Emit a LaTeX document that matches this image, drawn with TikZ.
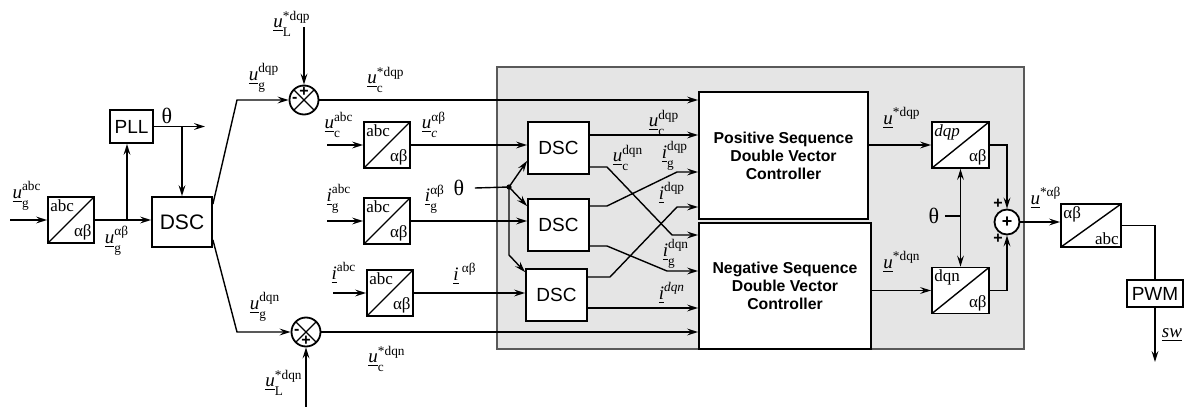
\documentclass[tikz,border=0pt]{standalone}
\usepackage{amsmath}
\usepackage{fontspec}
\setmainfont{Liberation Serif}
\setsansfont{Liberation Sans}
\usetikzlibrary{arrows.meta}
\newcommand{\ulv}[1]{\underline{\textit{#1}}}
% underlined quantity with lowered subscript and superscript
\newcommand{\sig}[3]{$\ulv{#1}_{\text{\raisebox{-2pt}{#2}}}^{\text{#3}}$}

\begin{document}
\begin{tikzpicture}[x=0.5pt, y=-0.5pt, line width=0.7pt,
          >={Stealth[length=5.5pt, width=3.4pt, inset=2pt]},
          arr/.style={->},
          blk/.style={draw, fill=white, line width=0.9pt, inner sep=0pt, font=\sffamily\fontsize{9.5}{11}\selectfont},
          ctl/.style={blk, align=center, font=\sffamily\bfseries\fontsize{7.9}{9}\selectfont},
          conv/.style={draw, fill=white, line width=0.9pt, minimum width=23pt, minimum height=23pt, inner sep=0pt,
            path picture={\draw[line width=0.7pt] (path picture bounding box.south west) -- (path picture bounding box.north east);}},
          cin/.style={anchor=north west, inner sep=1.3pt, font=\fontsize{8.5}{9}\selectfont},
          cout/.style={anchor=south east, inner sep=1.3pt, font=\fontsize{8.5}{9}\selectfont},
          mix/.style={draw, circle, fill=white, line width=0.9pt, minimum size=14.5pt, inner sep=0pt,
            path picture={\draw[line width=0.7pt] (path picture bounding box.north west) -- (path picture bounding box.south east)
              (path picture bounding box.north east) -- (path picture bounding box.south west);}},
          add/.style={draw, circle, fill=white, line width=0.9pt, minimum size=12.5pt, inner sep=0pt, font=\sffamily\bfseries\small},
          sgn/.style={inner sep=0pt, font=\sffamily\bfseries\fontsize{8}{8}\selectfont},
          lab/.style={inner sep=0pt, font=\fontsize{9.5}{11}\selectfont},
          panel/.style={fill=black!10, draw=black!65, line width=0.8pt}]
  \useasboundingbox (0,0) rectangle (1185,407);

  % controller panel
  \filldraw[panel] (497,67) rectangle (1024,349);

  % grid voltage, PLL and first DSC
  \node[conv, label={[cin]north west:abc}, label={[cout]south east:αβ}] (t1) at (71,220) {};
  \coordinate (ugin) at (10,220);
  \draw[arr] (ugin) -- (t1);
  \node[lab] (lugabc) at (27,196) {\sig{u}{g}{abc}};
  \node[blk, minimum width=21.5pt, minimum height=16.5pt] (pll) at (131.5,126.5) {PLL};
  \node[blk, minimum width=30pt, minimum height=25pt, font=\sffamily\fontsize{10.5}{12}\selectfont] (dsc1) at (182,222) {DSC};
  \draw[arr] (t1.east) -- (dsc1.west |- t1.east);
  \coordinate (b1) at (127,220);
  \draw[arr] (b1) -- (b1 |- pll.south);
  \node[lab] (lugab) at (117,241) {\sig{u}{g}{αβ}};
  \coordinate (thend) at (205,126.5);
  \draw[arr] (pll.east) -- (thend);
  \draw[arr] (dsc1.north |- pll.east) -- (dsc1.north);
  \node[lab, font=\fontsize{11}{12}\selectfont] (th1) at (167,116) {θ};

  % reference summers
  \node[mix] (sum1) at (304,100) {};
  \node[mix] (sum2) at (306,332) {};
  \node[sgn] (sum1p) at ([yshift=4.3pt]sum1.center) {+};
  \node[sgn] (sum1m) at ([xshift=-4.6pt]sum1.center) {-};
  \node[sgn] (sum2m) at ([xshift=-4.6pt]sum2.center) {-};
  \node[sgn] (sum2p) at ([yshift=-4.3pt]sum2.center) {+};
  \coordinate (kp) at (237,100);
  \coordinate (kn) at (237,332);
  \draw[arr] ([yshift=-4pt]dsc1.north east) -- (kp) -- (sum1);
  \draw[arr] ([yshift=4pt]dsc1.south east) -- (kn) -- (sum2);
  \coordinate (uLp) at (304,27);
  \coordinate (uLn) at (306,407);
  \draw[arr] (uLp) -- (sum1);
  \draw[arr] (uLn) -- (sum2);
  \node[lab] (lugdqp) at (264,78) {\sig{u}{g}{dqp}};
  \node[lab] (luLp) at (292,24) {\sig{u}{L}{*dqp}};
  \node[lab] (lucp) at (386,80) {\sig{u}{c}{*dqp}};
  \node[lab] (lugdqn) at (265,307) {\sig{u}{g}{dqn}};
  \node[lab] (luLn) at (284,383) {\sig{u}{L}{*dqn}};
  \node[lab] (lucn) at (387,359) {\sig{u}{c}{*dqn}};

  % abc -> alpha beta of the measured signals
  \node[conv, label={[cin]north west:abc}, label={[cout]south east:αβ}] (t2) at (387,145) {};
  \node[conv, label={[cin]north west:abc}, label={[cout]south east:αβ}] (t3) at (387,221) {};
  \node[conv, label={[cin]north west:abc}, label={[cout]south east:αβ}] (t4) at (390,293) {};
  \coordinate (ucin) at (327,145);
  \coordinate (igin) at (327,221);
  \coordinate (iin) at (333,293);
  \draw[arr] (ucin) -- (t2);
  \draw[arr] (igin) -- (t3);
  \draw[arr] (iin) -- (t4);
  \node[lab] (lucabc) at (339,125) {\sig{u}{c}{abc}};
  \node[lab] (ligabc) at (339,199) {\sig{i}{g}{abc}};
  \node[lab] (liabc) at (344,273) {$\ulv{i}^{\text{abc}}$};
  \node[lab] (lucab) at (434,125) {\sig{u}{\textit{c}}{αβ}};
  \node[lab] (ligab) at (435,199) {\sig{i}{g}{αβ}};
  \node[lab] (liab) at (465,274) {$\ulv{i}^{\text{ αβ}}$};

  % DSC blocks inside the panel
  \node[blk, minimum width=30.5pt, minimum height=26pt] (dsc2) at (558.5,148) {DSC};
  \node[blk, minimum width=30.5pt, minimum height=26pt] (dsc3) at (558.5,225) {DSC};
  \node[blk, minimum width=30.5pt, minimum height=26pt] (dsc4) at (556.5,295) {DSC};
  \draw[arr] (t2.east) -- (dsc2.west |- t2.east);
  \draw[arr] (t3.east) -- (dsc3.west |- t3.east);
  \draw[arr] (t4.east) -- (dsc4.west |- t4.east);
  \node[lab, font=\fontsize{11}{12}\selectfont] (th2) at (459,188) {θ};
  \coordinate (fork) at (509,187);
  \coordinate (forkb) at (509,255);
  \draw ([xshift=5pt]th2.east) -- (fork);
  \fill (fork) circle (1.3pt);
  \draw[arr] (fork) -- ([yshift=7pt]dsc2.south west);
  \draw[arr] (fork) -- ([yshift=-4pt]dsc3.north west);
  \draw[arr] (fork) -- (forkb) -- ([yshift=-2pt]dsc4.north west);

  % sequence controllers
  \node[ctl, minimum width=84.5pt, minimum height=63.5pt] (pos) at (783.5,155.5) {Positive Sequence\\Double Vector\\Controller};
  \node[ctl, minimum width=86pt, minimum height=63pt] (neg) at (785,286) {Negative Sequence\\Double Vector\\Controller};
  \draw[arr] (sum1) -- (sum1 -| pos.west);
  \draw[arr] (sum2) -- (sum2 -| neg.west);
  \draw[arr] (dsc2.east |- 0,135) -- (pos.west |- 0,135);
  \draw[arr] (dsc2.east |- 0,167) -- (607,167) -- (672,235) -- (neg.west |- 0,235);
  \draw[arr] (dsc3.east |- 0,206) -- (607,206) -- (677,172) -- (pos.west |- 0,172);
  \draw[arr] (dsc3.east |- 0,246) -- (607,246) -- (667,271) -- (neg.west |- 0,271);
  \draw[arr] (dsc4.east |- 0,277) -- (610,277) -- (677,207) -- (pos.west |- 0,207);
  \draw[arr] (dsc4.east |- 0,308) -- (neg.west |- 0,308);
  \node[lab] (lucdqp) at (664,123) {\sig{u}{c}{dqp}};
  \node[lab] (lucdqn) at (628,158) {\sig{u}{c}{dqn}};
  \node[lab] (ligdqp) at (675,156) {\sig{i}{g}{dqp}};
  \node[lab] (lidqp) at (672,193) {$\ulv{i}^{\text{dqp}}$};
  \node[lab] (ligdqn) at (676,254) {\sig{i}{g}{dqn}};
  \node[lab] (lidqn) at (672,293) {$\ulv{i}^{\textit{dqn}}$};

  % back to alpha beta and abc
  \node[conv, minimum width=28.5pt, label={[cin]north west:\textit{dqp}}, label={[cout]south east:αβ}] (t5) at (960.5,145) {};
  \node[conv, minimum width=28.5pt, label={[cin]north west:dqn}, label={[cout]south east:αβ}] (t6) at (960.5,290.5) {};
  \draw[arr] (pos.east |- t5.west) -- (t5.west);
  \draw[arr] (neg.east |- t6.west) -- (t6.west);
  \node[lab] (lupdqp) at (902,118) {$\ulv{u}^{\text{*dqp}}$};
  \node[lab] (lundqn) at (902,262) {$\ulv{u}^{\text{*dqn}}$};
  \node[lab, font=\fontsize{11}{12}\selectfont] (th3) at (934,216) {θ};
  \draw[<->] (t5.south) -- (t6.north);
  \draw ([xshift=2.5pt]th3.east) -- (t5.south |- th3.east);
  \node[add] (sum3) at (1007,222) {+};
  \node[sgn] (sum3a) at (998,204) {+};
  \node[sgn] (sum3b) at (998,239) {+};
  \draw[arr] (t5.east) -| (sum3.north);
  \draw[arr] (t6.east) -| (sum3.south);
  \node[conv, minimum width=30pt, minimum height=21.5pt, label={[cin]north west:αβ}, label={[cout]south east:abc}] (t7) at (1091,225.5) {};
  \draw[arr] (sum3.east) -- (sum3.east -| t7.west);
  \node[lab] (luab) at (1046,198) {$\ulv{u}^{\text{*αβ}}$};
  \node[blk, minimum width=28pt, minimum height=13.5pt] (pwm) at (1155,293.5) {PWM};
  \draw (t7.east) -| (pwm.north);
  \coordinate (swend) at (1155,362);
  \draw[arr] (pwm.south) -- (swend);
  \node[lab] (lsw) at (1172,335) {\ulv{sw}};
\end{tikzpicture}
\end{document}
